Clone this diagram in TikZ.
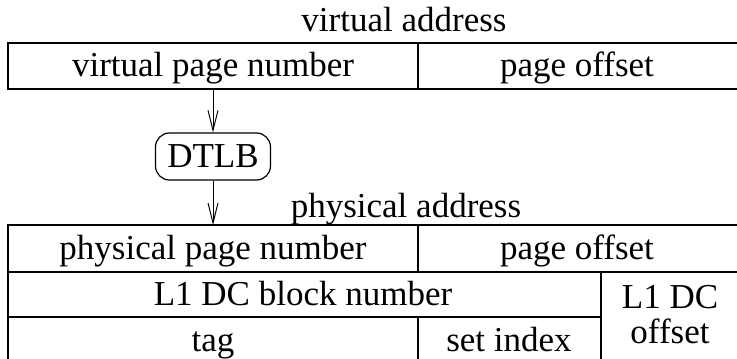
\documentclass[tikz,border=0pt]{standalone}
\usepackage{fontspec}
\setmainfont{Liberation Serif}
\usetikzlibrary{arrows.meta}
\begin{document}
\begin{tikzpicture}[x=1pt,y=-1pt,
    font=\fontsize{35}{35}\selectfont,
    txt/.style={inner sep=0pt,anchor=base},
    field/.style={line width=1.6pt},
    xlate/.style={draw,line width=1.2pt,rounded corners=14pt,
      minimum width=115pt,minimum height=47pt,inner sep=0pt},
    flow/.style={line width=1pt,-{Straight Barb[length=20pt,width=10pt]}}]
  \useasboundingbox (0,0) rectangle (737,359);
  % virtual address fields
  \node[txt] (va) at (404,31) {virtual address};
  \draw[field] (8,43) rectangle (742,89) (418,43) -- (418,89);
  \draw
    (213,76) node[txt] (vpn){virtual page number}
    (577,76) node[txt] (voff){page offset};
  % translation through the TLB
  \coordinate (vpnout) at (213,89);
  \node[xlate] (dtlb) at (213,156.5) {DTLB};
  \coordinate (ppnin) at (213,225);
  \begin{scope}[flow]
    \draw (vpnout) to (dtlb);
    \draw (dtlb) to (ppnin);
  \end{scope}
  % physical address fields
  \node[txt] (pa) at (406,217) {physical address};
  \draw[field] (8,225) rectangle (742,366);
  \draw[field] (8,272) -- (742,272) (8,317) -- (601,317);
  \draw[field] (418,225) -- (418,272) (418,317) -- (418,366)
    (601,272) -- (601,366);
  \draw
    (213,259) node[txt] (ppn){physical page number}
    (577,259) node[txt] (poff){page offset}
    (303,305) node[txt] (blk){L1 DC block number}
    (213,351) node[txt] (tag){tag}
    (509,351) node[txt] (idx){set index}
    (670,315) node[inner sep=0pt,align=center] (boff){L1 DC\\offset};
\end{tikzpicture}
\end{document}
